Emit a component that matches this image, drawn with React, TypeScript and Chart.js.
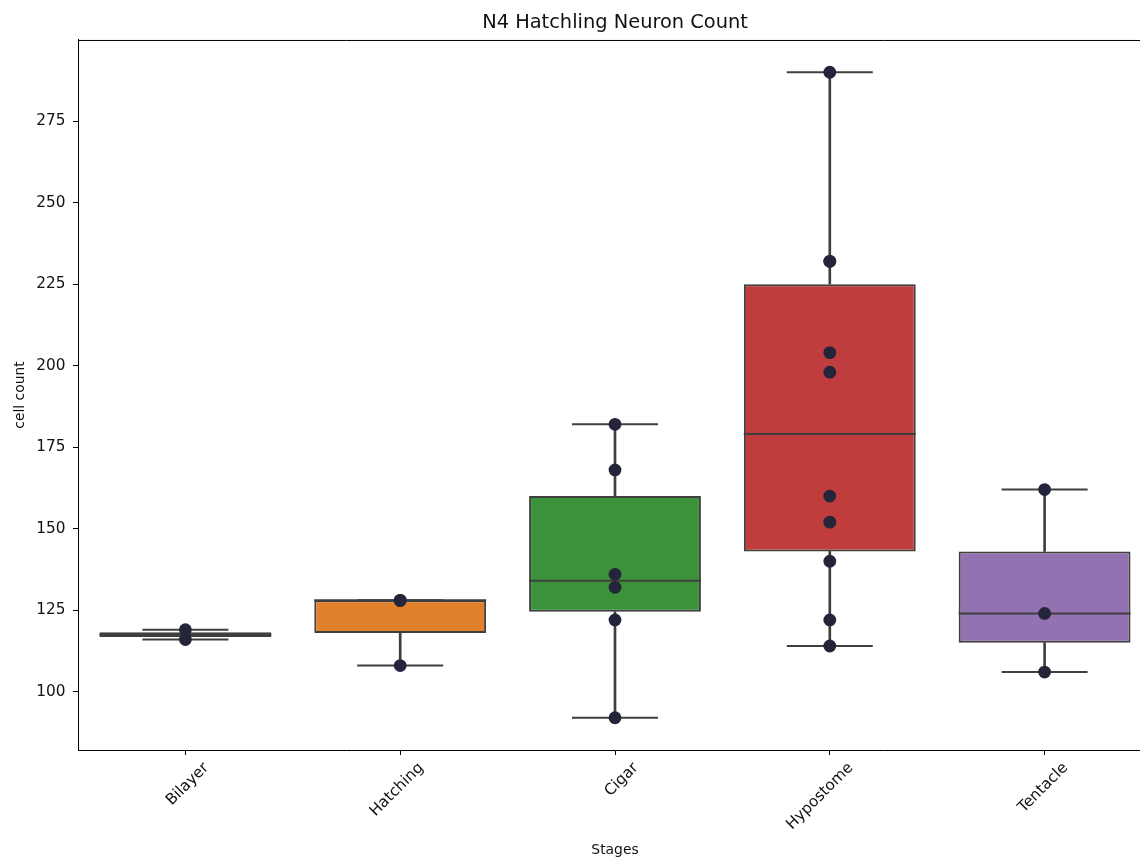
import React, { useEffect, useRef } from 'react';
import { Chart, registerables } from 'chart.js';

Chart.register(...registerables);

// ---- data ----
const stages = ['Bilayer', 'Hatching', 'Cigar', 'Hypostome', 'Tentacle'];
const bilayerCounts = [116, 119];
const hatchingCounts = [108, 128, 128];
const cigarCounts = [92, 122, 132, 136, 168, 182];
const hypostomeCounts = [114, 122, 140, 152, 160, 198, 204, 232, 232, 290];
const tentacleCounts = [106, 124, 162];
const boxColors = ['#3274a1', '#e1812c', '#3a923a', '#c03d3e', '#9372b2'];
const yTickStep = 25;

const countsByStage = [bilayerCounts, hatchingCounts, cigarCounts, hypostomeCounts, tentacleCounts];

function quantile(sorted: number[], q: number) {
  const pos = (sorted.length - 1) * q;
  const lo = Math.floor(pos);
  const hi = Math.ceil(pos);
  return sorted[lo] + (sorted[hi] - sorted[lo]) * (pos - lo);
}

function boxStats(values: number[]) {
  const s = [...values].sort((a, b) => a - b);
  const q1 = quantile(s, 0.25);
  const med = quantile(s, 0.5);
  const q3 = quantile(s, 0.75);
  const iqr = q3 - q1;
  const lo = Math.min(...s.filter((v) => v >= q1 - 1.5 * iqr));
  const hi = Math.max(...s.filter((v) => v <= q3 + 1.5 * iqr));
  return { q1, med, q3, lo, hi };
}

const stats = countsByStage.map(boxStats);
const allValues = countsByStage.flat();
const dataMin = Math.min(...allValues);
const dataMax = Math.max(...allValues);
const yMin = dataMin - 0.05 * (dataMax - dataMin);
const yMax = dataMax + 0.05 * (dataMax - dataMin);

const EDGE = '#3f3f3f';
const TEXT = '#111111';

const framePlugin = {
  id: 'frame',
  afterDraw(chart: any) {
    const { ctx, chartArea } = chart;
    const { top, right, left } = chartArea;
    ctx.save();
    ctx.strokeStyle = '#000';
    ctx.lineWidth = 1;
    ctx.beginPath();
    ctx.moveTo(left, top + 0.5);
    ctx.lineTo(right, top + 0.5);
    ctx.stroke();
    ctx.restore();
  },
};

export default function App() {
  const canvasRef = useRef<HTMLCanvasElement | null>(null);

  useEffect(() => {
    if (!canvasRef.current) return;
    Chart.defaults.font.family = "'DejaVu Sans', sans-serif";
    const chart = new Chart(canvasRef.current, {
      type: 'bar',
      data: {
        labels: stages,
        datasets: [
          {
            type: 'line',
            label: 'points',
            data: countsByStage.flatMap((vals, i) => vals.map((v) => ({ x: stages[i], y: v }))),
            showLine: false,
            pointRadius: 6.4,
            pointBackgroundColor: '#24243a',
            pointBorderWidth: 0,
            order: 0,
          } as any,
          {
            type: 'line',
            label: 'medians',
            data: stats.map((s, i) => ({ x: stages[i], y: s.med })),
            showLine: false,
            pointStyle: 'line',
            pointRadius: 86,
            pointBorderWidth: 2,
            pointBorderColor: EDGE,
            order: 1,
          } as any,
          {
            type: 'line',
            label: 'caps',
            data: stats.flatMap((s, i) => [
              { x: stages[i], y: s.lo },
              { x: stages[i], y: s.hi },
            ]),
            showLine: false,
            pointStyle: 'line',
            pointRadius: 43,
            pointBorderWidth: 2,
            pointBorderColor: EDGE,
            order: 2,
          } as any,
          {
            type: 'bar',
            label: 'boxes',
            data: stats.map((s) => [s.q1, s.q3]),
            backgroundColor: boxColors,
            borderColor: EDGE,
            borderWidth: 2,
            borderSkipped: false,
            barPercentage: 0.8,
            categoryPercentage: 1,
            grouped: false,
            order: 3,
          } as any,
          {
            type: 'bar',
            label: 'lower whiskers',
            data: stats.map((s) => [s.lo, s.q1]),
            backgroundColor: EDGE,
            borderWidth: 0,
            barThickness: 2,
            grouped: false,
            order: 4,
          } as any,
          {
            type: 'bar',
            label: 'upper whiskers',
            data: stats.map((s) => [s.q3, s.hi]),
            backgroundColor: EDGE,
            borderWidth: 0,
            barThickness: 2,
            grouped: false,
            order: 4,
          } as any,
        ],
      },
      options: {
        responsive: false,
        animation: false,
        events: [],
        layout: { autoPadding: false, padding: { left: 0, right: 48, top: 0, bottom: 0 } },
        plugins: {
          legend: { display: false },
          tooltip: { enabled: false },
          title: {
            display: true,
            text: 'N4 Hatchling Neuron Count',
            color: TEXT,
            fullSize: false,
            font: { size: 19.4, weight: 'normal' },
            padding: { top: 11.3, bottom: 5.4 },
          },
        },
        scales: {
          x: {
            type: 'category',
            offset: true,
            grid: {
              display: true,
              offset: false,
              drawOnChartArea: false,
              drawTicks: true,
              tickLength: 5,
              tickColor: '#000',
            },
            border: { display: true, color: '#000', width: 1 },
            ticks: {
              color: TEXT,
              font: { size: 15.3 },
              minRotation: 45,
              maxRotation: 45,
              autoSkip: false,
              padding: 4,
              labelOffset: 21,
            },
            title: {
              display: true,
              text: 'Stages',
              color: TEXT,
              font: { size: 13.9 },
              padding: { top: 0, bottom: 11.5 },
            },
            afterFit(scale: any) {
              scale.height = 120;
            },
          },
          y: {
            type: 'linear',
            min: yMin,
            max: yMax,
            grid: {
              display: true,
              drawOnChartArea: false,
              drawTicks: true,
              tickLength: 5,
              tickColor: '#000',
            },
            border: { display: true, color: '#000', width: 1 },
            ticks: {
              stepSize: yTickStep,
              includeBounds: false,
              color: TEXT,
              font: { size: 15.3 },
              padding: 7.5,
            },
            title: {
              display: true,
              text: 'cell count',
              color: TEXT,
              font: { size: 13.9 },
              padding: { top: 12, bottom: 0 },
            },
            afterFit(scale: any) {
              scale.width = 78;
            },
          },
        },
      } as any,
      plugins: [framePlugin],
    });
    return () => chart.destroy();
  }, []);

  return (
    <div
      style={{
        position: 'fixed',
        left: 0,
        top: 0,
        width: 1140,
        height: 857,
        overflow: 'hidden',
        background: '#ffffff',
      }}
    >
      <canvas ref={canvasRef} width={1200} height={870} style={{ display: 'block' }} />
    </div>
  );
}
